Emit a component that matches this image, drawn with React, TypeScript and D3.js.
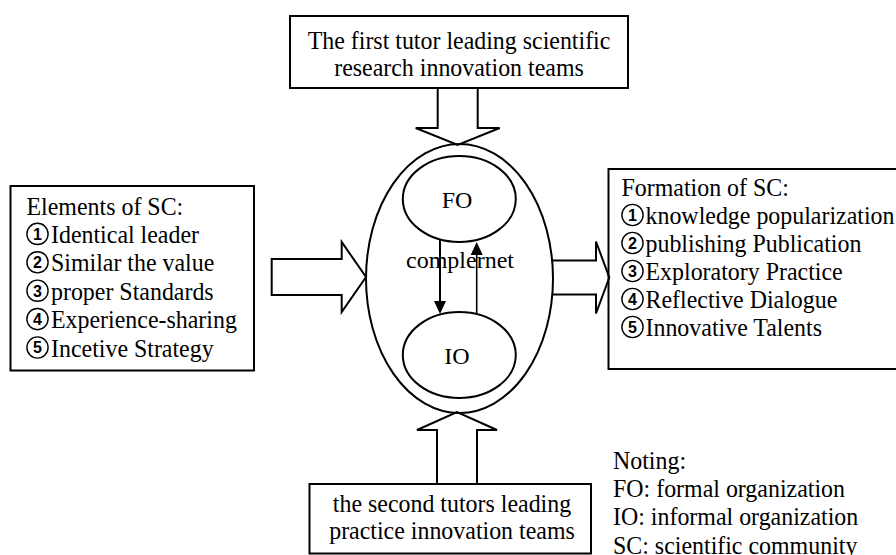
import React from "react";
import * as d3 from "d3";

const topLabel = ["The first tutor leading scientific", "research innovation teams"];
const bottomLabel = ["the second tutors leading", "practice innovation teams"];
const leftTitle = "Elements of SC:";
const leftItems = ["Identical leader", "Similar the value", "proper Standards", "Experience-sharing", "Incetive Strategy"];
const rightTitle = "Formation of SC:";
const rightItems = ["knowledge popularization", "publishing Publication", "Exploratory Practice", "Reflective Dialogue", "Innovative Talents"];
const notes = ["Noting:", "FO: formal organization", "IO: informal organization", "SC: scientific community"];
const innerNodes = ["FO", "IO"];
const linkLabel = "complernet";

const FONT = "'Liberation Serif', 'Times New Roman', serif";
const FS = 26;
const SX = 0.92;

function vArrow(cx: number, base: number, headBase: number, tip: number, sh: number, hh: number) {
  const p = d3.path();
  p.moveTo(cx - sh, base);
  p.lineTo(cx - sh, headBase);
  p.lineTo(cx - hh, headBase);
  p.lineTo(cx, tip);
  p.lineTo(cx + hh, headBase);
  p.lineTo(cx + sh, headBase);
  p.lineTo(cx + sh, base);
  return p.toString();
}
function hArrow(cy: number, base: number, headBase: number, tip: number, sh: number, hh: number, close: boolean) {
  const p = d3.path();
  p.moveTo(base, cy - sh);
  p.lineTo(headBase, cy - sh);
  p.lineTo(headBase, cy - hh);
  p.lineTo(tip, cy);
  p.lineTo(headBase, cy + hh);
  p.lineTo(headBase, cy + sh);
  p.lineTo(base, cy + sh);
  if (close) p.closePath();
  return p.toString();
}

function T({ x, y, anchor, children }: { x: number; y: number; anchor?: string; children: React.ReactNode }) {
  return (
    <text transform={`translate(${x},${y}) scale(${SX},1)`} textAnchor={anchor || "start"} fontSize={FS}>
      {children}
    </text>
  );
}

function Circled({ x, y, n }: { x: number; y: number; n: number }) {
  return (
    <g>
      <circle cx={x} cy={y} r={10.6} fill="white" stroke="#000" strokeWidth={1.4} />
      <text x={x} y={y + 5.8} textAnchor="middle" fontFamily="'Liberation Sans', Arial, sans-serif" fontWeight="bold" fontSize={16}>
        {n}
      </text>
    </g>
  );
}

export default function App() {
  const leftY = d3.scaleLinear().domain([0, 5]).range([214.5, 356.5]);
  const rightY = d3.scaleLinear().domain([0, 5]).range([196, 336]);
  const noteY = d3.scaleLinear().domain([0, 3]).range([468.5, 553.5]);
  const nodeY = d3.scalePoint<string>().domain(innerNodes).range([199, 355]);
  const stroke = "#000";
  return (
    <svg width={896} height={555} style={{ position: "absolute", left: 0, top: 0, background: "#fff" }}
      fontFamily={FONT} fontSize={FS}>
      <rect x={0} y={0} width={896} height={555} fill="#fff" />
      {/* top box */}
      <rect x={290} y={16} width={338} height={72} fill="none" stroke={stroke} strokeWidth={2} />
      {topLabel.map((t, i) => (
        <T key={t} x={459} y={48.5 + i * 27} anchor="middle">{t}</T>
      ))}
      <path d={vArrow(457.7, 88, 128, 145, 20, 42)} fill="none" stroke={stroke} strokeWidth={2} strokeLinejoin="miter" />

      {/* outer ellipse */}
      <ellipse cx={459.5} cy={278.5} rx={93.5} ry={134.5} fill="none" stroke={stroke} strokeWidth={2} />
      {innerNodes.map((n) => (
        <g key={n}>
          <ellipse cx={459.3} cy={nodeY(n)!} rx={56.5} ry={43} fill="none" stroke={stroke} strokeWidth={2} />
          <text x={457} y={nodeY(n)! + 8.5} textAnchor="middle" fontSize={24}>{n}</text>
        </g>
      ))}
      <text x={460} y={268} textAnchor="middle" fontSize={24}>{linkLabel}</text>
      {/* inner arrows */}
      <line x1={440} y1={240} x2={440} y2={302} stroke={stroke} strokeWidth={2} />
      <path d="M434,301 L446,301 L440,314 Z" fill={stroke} />
      <line x1={476.7} y1={313} x2={476.7} y2={254} stroke={stroke} strokeWidth={1.6} />
      <path d="M470.7,255 L482.7,255 L476.7,242 Z" fill={stroke} />

      {/* left box */}
      <rect x={10.5} y={186} width={243.5} height={184.5} fill="none" stroke={stroke} strokeWidth={2} />
      <T x={26.5} y={leftY(0)}>{leftTitle}</T>
      {leftItems.map((t, i) => (
        <g key={t}>
          <Circled x={37.5} y={leftY(i + 1) - 9} n={i + 1} />
          <T x={51} y={leftY(i + 1)}>{t}</T>
        </g>
      ))}
      <path d={hArrow(277, 271.7, 341.7, 366, 18, 35, true)} fill="none" stroke={stroke} strokeWidth={2} />

      {/* right arrow + box */}
      <path d={hArrow(277.5, 552, 596, 609.3, 17, 36, false)} fill="none" stroke={stroke} strokeWidth={2} />
      <rect x={608.5} y={169} width={320} height={200} fill="none" stroke={stroke} strokeWidth={2} />
      <T x={621.5} y={rightY(0)}>{rightTitle}</T>
      {rightItems.map((t, i) => (
        <g key={t}>
          <Circled x={632.5} y={rightY(i + 1) - 9} n={i + 1} />
          <T x={645.5} y={rightY(i + 1)}>{t}</T>
        </g>
      ))}

      {/* bottom arrow + box */}
      <path d={vArrow(457, 484, 430, 412, 20, 40)} fill="none" stroke={stroke} strokeWidth={2} />
      <rect x={309.5} y={484} width={281.5} height={69.5} fill="none" stroke={stroke} strokeWidth={2} />
      {bottomLabel.map((t, i) => (
        <T key={t} x={452} y={512 + i * 27} anchor="middle">{t}</T>
      ))}

      {/* notes */}
      {notes.map((t, i) => (
        <T key={t} x={613} y={noteY(i)}>{t}</T>
      ))}
    </svg>
  );
}
